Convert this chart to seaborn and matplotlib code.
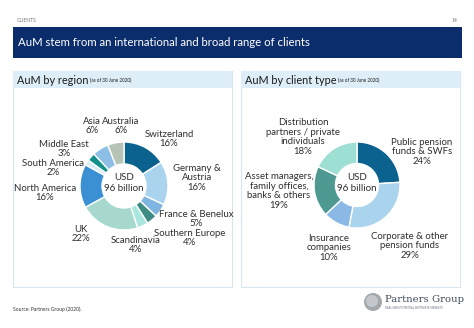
import matplotlib
matplotlib.use("Agg")
import matplotlib.pyplot as plt
import seaborn as sns
from matplotlib.patches import Rectangle, Circle

# ---------------- data ----------------
region_labels = ["Switzerland", "Germany &\nAustria", "France & Benelux", "Southern Europe",
                 "Scandinavia", "UK", "North America", "South America", "Middle East",
                 "Asia", "Australia"]
region_values = [16, 16, 5, 4, 4, 22, 16, 2, 3, 6, 6]
region_colors = ["#0b628f", "#aad4ee", "#80b4e1", "#3e8a84", "#a9e6de", "#a7d8cd",
                 "#3b8fd3", "#d9edf7", "#14908d", "#8dbfe6", "#b5c4b5"]

client_labels = ["Public pension\nfunds & SWFs", "Corporate & other\npension funds",
                 "Insurance\ncompanies", "Asset managers,\nfamily offices,\nbanks & others",
                 "Distribution\npartners / private\nindividuals"]
client_values = [24, 29, 10, 19, 18]
client_colors = ["#0b628f", "#aad4ee", "#8ab9e6", "#4e9a93", "#9edfd4"]

# label anchor positions (pixels, y down)
region_label_pos = [(169, 139), (197, 178), (196, 219), (190, 238), (136, 245), (81, 234),
                    (45, 193), (53, 168), (64, 149), (92, 126), (121, 126)]
client_label_pos = [(422, 152), (410, 246), (329, 248), (279, 191), (303, 137)]

# ---------------- style ----------------
sns.set_theme(style="white")
plt.rcParams['font.family'] = ['Lato', 'DejaVu Sans']

W, H = 474, 328
fig = plt.figure(figsize=(W / 100, H / 100), dpi=100)
ax = fig.add_axes([0, 0, 1, 1])

NAVY = "#0c2d6b"
TXT = "#2e2e2e"

# donuts
def donut(values, colors, center, R):
    ax.pie(values, colors=colors, startangle=-90, counterclock=True, center=center,
           radius=R, wedgeprops=dict(width=R * 0.5, edgecolor="white", linewidth=1.0),
           frame=True)

donut(region_values, region_colors, (124, 186), 44)
donut(client_values, client_colors, (357, 185), 43)

ax.set_xlim(0, W)
ax.set_ylim(H, 0)
ax.set_aspect('auto')
ax.axis('off')

# header
ax.text(17, 21, "CLIENTS", fontsize=3.6, color="#777777", va="center", ha="left")
ax.text(457, 21, "14", fontsize=3.6, color="#777777", va="center", ha="right")
ax.add_patch(Rectangle((13, 27), 449, 31, facecolor=NAVY, edgecolor="none", zorder=0))
ax.text(18, 43, "AuM stem from an international and broad range of clients",
        fontsize=8.2, color="white", va="center", ha="left")

# panels
for x0, title in [(13, "AuM by region"), (241, "AuM by client type")]:
    ax.add_patch(Rectangle((x0, 71), 219, 216, facecolor="white", edgecolor="#d6e7ef",
                           linewidth=0.8, zorder=0))
    ax.add_patch(Rectangle((x0, 71), 219, 17, facecolor="#ddeef8", edgecolor="none", zorder=0))
    t = ax.text(x0 + 4, 80, title, fontsize=7.8, color="#1a1a1a", va="center", ha="left")
    fig.canvas.draw()
    bb = t.get_window_extent()
    ax.text(bb.x1 + 1.5, 80.5, "(as of 30 June 2020)", fontsize=3.3, color="#1a1a1a",
            va="center", ha="left")

# centre texts
for c in [(124, 183), (357, 183)]:
    ax.text(c[0], c[1], "USD\n96 billion", fontsize=7, color=TXT, ha="center",
            va="center", linespacing=1.15)

# labels
for lab, val, (x, y) in zip(region_labels, region_values, region_label_pos):
    ax.text(x, y, f"{lab}\n{val}%", fontsize=6.9, color=TXT, ha="center", va="center",
            linespacing=1.12)
for lab, val, (x, y) in zip(client_labels, client_values, client_label_pos):
    ax.text(x, y, f"{lab}\n{val}%", fontsize=6.9, color=TXT, ha="center", va="center",
            linespacing=1.12)

# source
ax.text(13, 309, "Source: Partners Group (2020).", fontsize=3.6, color="#333333",
        va="center", ha="left")

# logo
ax.add_patch(Circle((373, 302), 9, facecolor="#a3a8ad", edgecolor="none"))
ax.add_patch(Circle((372, 301), 6, facecolor="#c4c8cc", edgecolor="none"))
ax.text(385, 300, "Partners Group", fontsize=7.3, color="#3c4a5c", va="center", ha="left",
        family="DejaVu Serif")
ax.text(385, 308, "REALISING POTENTIAL IN PRIVATE MARKETS", fontsize=2.0, color="#6a7380",
        va="center", ha="left")

fig.savefig("out.png", dpi=100)
